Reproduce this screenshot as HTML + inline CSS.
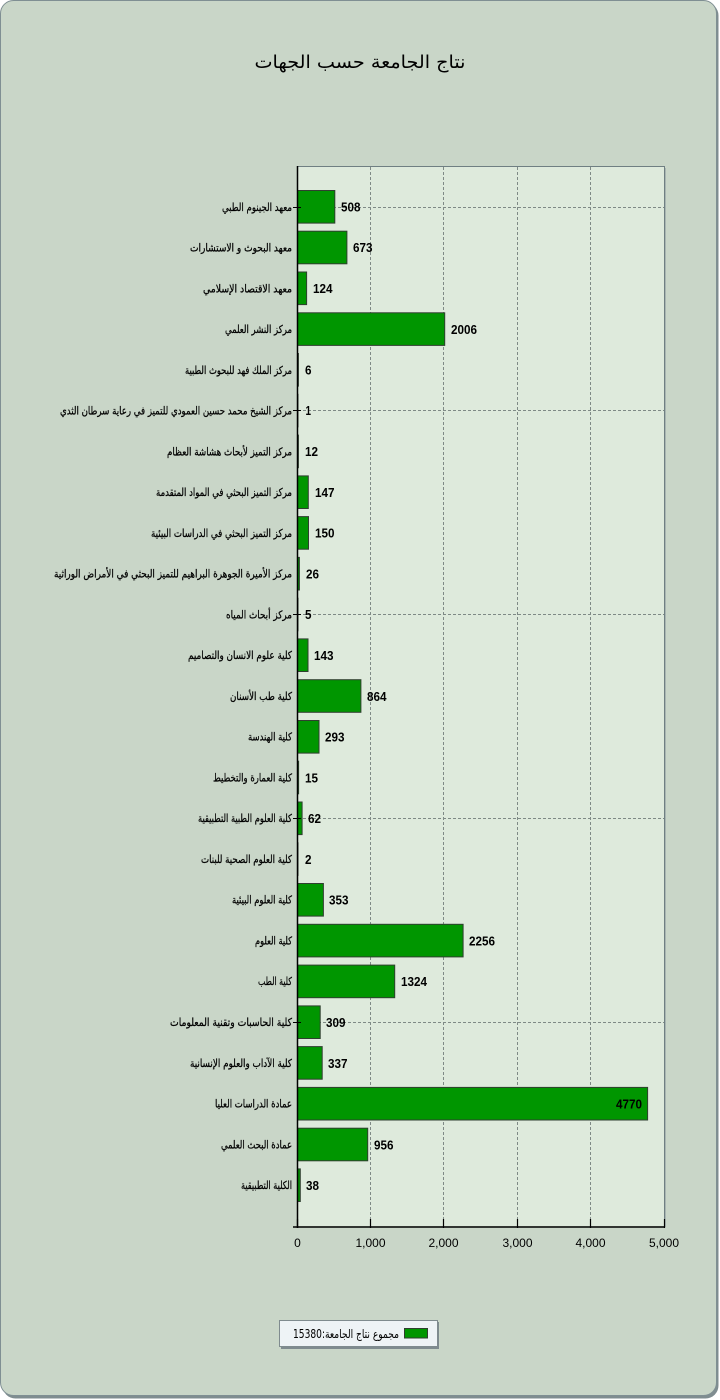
<!DOCTYPE html>
<html>
<head>
<meta charset="utf-8">
<style>
  html, body { margin:0; padding:0; background:#ffffff; }
  body { width:720px; height:1400px; overflow:hidden; }
  svg { display:block; }
  .cat { font-family:"DejaVu Sans", sans-serif; font-size:11px; fill:#000; stroke:#000; stroke-width:0.25; }
  .val { font-family:"Liberation Sans", sans-serif; font-size:13px; font-weight:bold; fill:#000; }
  .tick { font-family:"Liberation Sans", sans-serif; font-size:12px; fill:#000; }
</style>
</head>
<body>
<svg width="720" height="1400" viewBox="0 0 720 1400" xmlns="http://www.w3.org/2000/svg">
  <!-- frame shadow -->
  <rect x="2.5" y="2.5" width="716" height="1396" rx="13" ry="13" fill="#7f8d90"/>
  <!-- frame -->
  <rect x="0.5" y="0.5" width="716" height="1395" rx="13" ry="13" fill="#c9d6c8" stroke="#7f8f93" stroke-width="1"/>

  <!-- title -->
  <text x="360" y="68" text-anchor="middle" font-family="DejaVu Sans, sans-serif" font-size="18" fill="#000" textLength="211" lengthAdjust="spacingAndGlyphs">نتاج الجامعة حسب الجهات</text>

  <!-- plot area -->
  <rect x="297" y="166" width="367" height="1060" fill="#deeadc"/>
  <line x1="665.5" y1="168" x2="665.5" y2="1227" stroke="#a9b6b2" stroke-width="1"/>
  <line x1="297" y1="166.5" x2="664.5" y2="166.5" stroke="#6f7f82" stroke-width="1"/>
  <line x1="664.5" y1="166" x2="664.5" y2="1227" stroke="#6f7f82" stroke-width="1"/>

  <!-- vertical dashed gridlines -->
  <g stroke="#7f8a86" stroke-width="1" stroke-dasharray="3,2">
    <line x1="370.5" y1="167" x2="370.5" y2="1226"/>
    <line x1="443.5" y1="167" x2="443.5" y2="1226"/>
    <line x1="517.5" y1="167" x2="517.5" y2="1226"/>
    <line x1="590.5" y1="167" x2="590.5" y2="1226"/>
  </g>
  <!-- horizontal dashed gridlines -->
  <g stroke="#7f8a86" stroke-width="1" stroke-dasharray="3,2">
    <line x1="298" y1="207.5" x2="664" y2="207.5"/>
    <line x1="298" y1="410.5" x2="664" y2="410.5"/>
    <line x1="298" y1="614.5" x2="664" y2="614.5"/>
    <line x1="298" y1="818.5" x2="664" y2="818.5"/>
    <line x1="298" y1="1022.5" x2="664" y2="1022.5"/>
  </g>

  <!-- bars -->
  <g fill="#009600" stroke="#2f3f2f" stroke-width="1">
    <rect x="297.5" y="190.5" width="37.3" height="32.6"/>
    <rect x="297.5" y="231.2" width="49.4" height="32.6"/>
    <rect x="297.5" y="272.0" width="9.1" height="32.6"/>
    <rect x="297.5" y="312.8" width="147.2" height="32.6"/>
    <rect x="297.5" y="353.5" width="0.9" height="32.6"/>
    <rect x="297.5" y="394.3" width="0.5" height="32.6"/>
    <rect x="297.5" y="435.1" width="0.9" height="32.6"/>
    <rect x="297.5" y="475.9" width="10.8" height="32.6"/>
    <rect x="297.5" y="516.6" width="11.0" height="32.6"/>
    <rect x="297.5" y="557.4" width="1.9" height="32.6"/>
    <rect x="297.5" y="598.2" width="0.5" height="32.6"/>
    <rect x="297.5" y="638.9" width="10.5" height="32.6"/>
    <rect x="297.5" y="679.7" width="63.4" height="32.6"/>
    <rect x="297.5" y="720.5" width="21.5" height="32.6"/>
    <rect x="297.5" y="761.2" width="1.1" height="32.6"/>
    <rect x="297.5" y="802.0" width="4.6" height="32.6"/>
    <rect x="297.5" y="842.8" width="0.5" height="32.6"/>
    <rect x="297.5" y="883.5" width="25.9" height="32.6"/>
    <rect x="297.5" y="924.3" width="165.6" height="32.6"/>
    <rect x="297.5" y="965.1" width="97.2" height="32.6"/>
    <rect x="297.5" y="1005.9" width="22.7" height="32.6"/>
    <rect x="297.5" y="1046.6" width="24.7" height="32.6"/>
    <rect x="297.5" y="1087.4" width="350.1" height="32.6"/>
    <rect x="297.5" y="1128.2" width="70.2" height="32.6"/>
    <rect x="297.5" y="1168.9" width="2.8" height="32.6"/>
  </g>

  <!-- value labels -->
  <g class="val">
    <text x="341" y="211.5" textLength="19.5" lengthAdjust="spacingAndGlyphs">508</text>
    <text x="353" y="252" textLength="19.5" lengthAdjust="spacingAndGlyphs">673</text>
    <text x="313" y="293" textLength="19.5" lengthAdjust="spacingAndGlyphs">124</text>
    <text x="451" y="334" textLength="26" lengthAdjust="spacingAndGlyphs">2006</text>
    <text x="305" y="374.5" textLength="6.5" lengthAdjust="spacingAndGlyphs">6</text>
    <text x="305.5" y="415" textLength="5.5" lengthAdjust="spacingAndGlyphs">1</text>
    <text x="305" y="456" textLength="13" lengthAdjust="spacingAndGlyphs">12</text>
    <text x="315" y="497" textLength="19.5" lengthAdjust="spacingAndGlyphs">147</text>
    <text x="315" y="537.5" textLength="19.5" lengthAdjust="spacingAndGlyphs">150</text>
    <text x="306" y="578.5" textLength="13" lengthAdjust="spacingAndGlyphs">26</text>
    <text x="305" y="619" textLength="6.5" lengthAdjust="spacingAndGlyphs">5</text>
    <text x="314" y="660" textLength="19.5" lengthAdjust="spacingAndGlyphs">143</text>
    <text x="367" y="701" textLength="19.5" lengthAdjust="spacingAndGlyphs">864</text>
    <text x="325" y="741.5" textLength="19.5" lengthAdjust="spacingAndGlyphs">293</text>
    <text x="305" y="782.5" textLength="13" lengthAdjust="spacingAndGlyphs">15</text>
    <text x="308" y="823" textLength="13" lengthAdjust="spacingAndGlyphs">62</text>
    <text x="305" y="864" textLength="6.5" lengthAdjust="spacingAndGlyphs">2</text>
    <text x="329" y="904.5" textLength="19.5" lengthAdjust="spacingAndGlyphs">353</text>
    <text x="469" y="945.5" textLength="26" lengthAdjust="spacingAndGlyphs">2256</text>
    <text x="401" y="986" textLength="26" lengthAdjust="spacingAndGlyphs">1324</text>
    <text x="326" y="1027" textLength="19.5" lengthAdjust="spacingAndGlyphs">309</text>
    <text x="328" y="1068" textLength="19.5" lengthAdjust="spacingAndGlyphs">337</text>
    <text x="616" y="1108.5" textLength="26" lengthAdjust="spacingAndGlyphs">4770</text>
    <text x="374" y="1149.5" textLength="19.5" lengthAdjust="spacingAndGlyphs">956</text>
    <text x="306" y="1190" textLength="13" lengthAdjust="spacingAndGlyphs">38</text>
  </g>

  <!-- category labels -->
  <g class="cat" text-anchor="end">
    <text x="292" y="211" textLength="70" lengthAdjust="spacingAndGlyphs">معهد الجينوم الطبي</text>
    <text x="292" y="251.5" textLength="102" lengthAdjust="spacingAndGlyphs">معهد البحوث و الاستشارات</text>
    <text x="292" y="292.5" textLength="89" lengthAdjust="spacingAndGlyphs">معهد الاقتصاد الإسلامي</text>
    <text x="292" y="333" textLength="67" lengthAdjust="spacingAndGlyphs">مركز النشر العلمي</text>
    <text x="292" y="374" textLength="107" lengthAdjust="spacingAndGlyphs">مركز الملك فهد للبحوث الطبية</text>
    <text x="292" y="414.5" textLength="232" lengthAdjust="spacingAndGlyphs">مركز الشيخ محمد حسين العمودي للتميز في رعاية سرطان الثدي</text>
    <text x="292" y="455.5" textLength="125" lengthAdjust="spacingAndGlyphs">مركز التميز لأبحاث هشاشة العظام</text>
    <text x="292" y="496" textLength="136" lengthAdjust="spacingAndGlyphs">مركز التميز البحثي في المواد المتقدمة</text>
    <text x="292" y="537" textLength="141" lengthAdjust="spacingAndGlyphs">مركز التميز البحثي في الدراسات البيئية</text>
    <text x="292" y="577.5" textLength="238" lengthAdjust="spacingAndGlyphs">مركز الأميرة الجوهرة البراهيم للتميز البحثي في الأمراض الوراثية</text>
    <text x="292" y="618.5" textLength="66" lengthAdjust="spacingAndGlyphs">مركز أبحاث المياه</text>
    <text x="292" y="659" textLength="104" lengthAdjust="spacingAndGlyphs">كلية علوم الانسان والتصاميم</text>
    <text x="292" y="700" textLength="62" lengthAdjust="spacingAndGlyphs">كلية طب الأسنان</text>
    <text x="292" y="740.5" textLength="44" lengthAdjust="spacingAndGlyphs">كلية الهندسة</text>
    <text x="292" y="781.5" textLength="79" lengthAdjust="spacingAndGlyphs">كلية العمارة والتخطيط</text>
    <text x="292" y="822" textLength="94" lengthAdjust="spacingAndGlyphs">كلية العلوم الطبية التطبيقية</text>
    <text x="292" y="863" textLength="91" lengthAdjust="spacingAndGlyphs">كلية العلوم الصحية للبنات</text>
    <text x="292" y="903.5" textLength="60" lengthAdjust="spacingAndGlyphs">كلية العلوم البيئية</text>
    <text x="292" y="944.5" textLength="37" lengthAdjust="spacingAndGlyphs">كلية العلوم</text>
    <text x="292" y="985" textLength="34" lengthAdjust="spacingAndGlyphs">كلية الطب</text>
    <text x="292" y="1026" textLength="122" lengthAdjust="spacingAndGlyphs">كلية الحاسبات وتقنية المعلومات</text>
    <text x="292" y="1067" textLength="102" lengthAdjust="spacingAndGlyphs">كلية الآداب والعلوم الإنسانية</text>
    <text x="292" y="1107.5" textLength="77" lengthAdjust="spacingAndGlyphs">عمادة الدراسات العليا</text>
    <text x="292" y="1148.5" textLength="71" lengthAdjust="spacingAndGlyphs">عمادة البحث العلمي</text>
    <text x="292" y="1189" textLength="51" lengthAdjust="spacingAndGlyphs">الكلية التطبيقية</text>
  </g>

  <!-- left axis ticks -->
  <g stroke="#000" stroke-width="1">
    <line x1="293" y1="207.5" x2="301" y2="207.5"/>
    <line x1="293" y1="410.5" x2="301" y2="410.5"/>
    <line x1="293" y1="614.5" x2="301" y2="614.5"/>
    <line x1="293" y1="818.5" x2="301" y2="818.5"/>
    <line x1="293" y1="1022.5" x2="301" y2="1022.5"/>
  </g>

  <!-- axes -->
  <line x1="297.5" y1="166" x2="297.5" y2="1228" stroke="#000" stroke-width="1.5"/>
  <line x1="293" y1="1227" x2="665" y2="1227" stroke="#000" stroke-width="1.5"/>
  <g stroke="#000" stroke-width="1.2">
    <line x1="297.5" y1="1219" x2="297.5" y2="1228"/>
    <line x1="370.5" y1="1219" x2="370.5" y2="1228"/>
    <line x1="443.5" y1="1219" x2="443.5" y2="1228"/>
    <line x1="517.5" y1="1219" x2="517.5" y2="1228"/>
    <line x1="590.5" y1="1219" x2="590.5" y2="1228"/>
    <line x1="664.5" y1="1219" x2="664.5" y2="1228"/>
  </g>

  <!-- x tick labels -->
  <g class="tick" text-anchor="middle">
    <text x="297.5" y="1247">0</text>
    <text x="370.5" y="1247">1,000</text>
    <text x="443.5" y="1247">2,000</text>
    <text x="517.5" y="1247">3,000</text>
    <text x="590.5" y="1247">4,000</text>
    <text x="664" y="1247">5,000</text>
  </g>

  <!-- legend -->
  <rect x="281" y="1322" width="158" height="27" fill="#7f8b8f"/>
  <rect x="279.5" y="1320.5" width="158" height="26" fill="#eef3f6" stroke="#7f8b8f" stroke-width="1"/>
  <rect x="404.5" y="1328.5" width="23" height="9.5" fill="#009600" stroke="#2f3f2f" stroke-width="1"/>
  <text x="399" y="1338" text-anchor="end" font-family="DejaVu Sans, sans-serif" font-size="12" fill="#000" textLength="106" lengthAdjust="spacingAndGlyphs">مجموع نتاج الجامعة:15380</text>
</svg>
</body>
</html>
